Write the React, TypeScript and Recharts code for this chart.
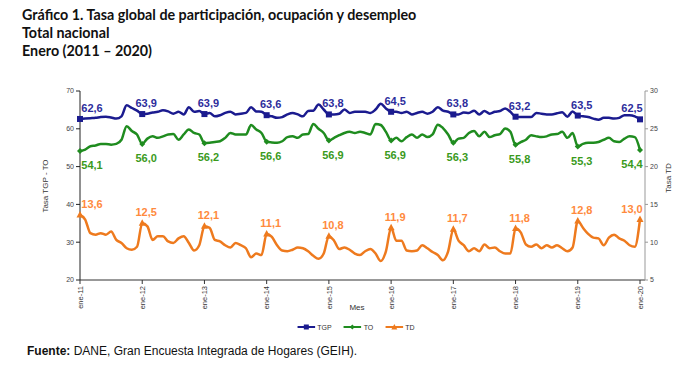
import React from "react";
import { LineChart, Line, XAxis, YAxis } from "recharts";

const MESES = ["ene", "feb", "mar", "abr", "may", "jun", "jul", "ago", "sep", "oct", "nov", "dic"];
const ANIOS = ["11", "12", "13", "14", "15", "16", "17", "18", "19", "20"];

// tasa global de participacion
const tgp = [
  62.6, 62.7, 62.8, 62.9, 63.1, 63.2, 63.0, 62.7, 63.3, 66.2, 65.5, 64.8,
  63.9, 64.0, 64.3, 64.5, 64.9, 64.6, 64.0, 64.5, 63.8, 65.7, 64.5, 64.7,
  63.9, 64.2, 63.3, 63.6, 64.2, 64.5, 63.8, 64.0, 64.2, 65.7, 64.6, 64.5,
  63.6, 63.3, 62.9, 63.1, 63.8, 64.2, 63.8, 63.3, 64.7, 64.8, 66.4, 65.1,
  63.8, 63.8, 64.0, 65.1, 64.2, 64.5, 64.5, 64.5, 64.2, 65.1, 66.6, 65.4,
  64.5, 64.5, 64.2, 64.5, 63.8, 64.2, 64.5, 64.0, 64.5, 65.7, 64.8, 64.5,
  63.8, 63.8, 64.3, 64.2, 64.8, 63.8, 64.7, 64.0, 64.5, 64.7, 65.4, 64.5,
  63.2, 63.1, 63.1, 63.1, 64.2, 64.0, 63.8, 63.8, 64.1, 64.4, 63.2, 64.6,
  63.5, 63.3, 63.1, 62.7, 62.4, 62.9, 62.9, 62.7, 62.9, 63.6, 63.6, 63.3,
  62.5,
];

// tasa de ocupacion
const to = [
  54.1, 54.5, 55.4, 55.6, 56.0, 56.0, 55.8, 56.0, 57.1, 60.7, 59.4, 58.5,
  56.0, 57.4, 58.0, 57.6, 58.0, 58.5, 58.6, 57.1, 58.5, 59.8, 58.9, 58.5,
  56.2, 56.3, 56.5, 56.7, 57.6, 58.9, 58.5, 58.5, 58.5, 61.0, 59.8, 58.9,
  56.6, 56.4, 56.3, 56.7, 57.8, 58.0, 57.6, 58.5, 58.6, 61.3, 60.0, 58.9,
  56.9, 57.6, 58.3, 58.9, 59.2, 58.9, 59.2, 58.9, 58.5, 61.3, 61.0, 59.2,
  56.9, 57.6, 56.7, 57.8, 58.5, 57.6, 58.5, 57.8, 58.5, 61.1, 60.2, 58.5,
  56.3, 57.4, 57.6, 58.9, 59.4, 58.0, 59.2, 57.8, 58.3, 58.6, 60.1, 59.2,
  55.8, 56.5, 57.1, 58.3, 58.0, 57.8, 58.0, 58.5, 58.6, 59.2, 57.6, 58.9,
  55.3, 56.0, 56.3, 56.3, 56.5, 57.1, 57.6, 56.7, 56.5, 57.4, 58.0, 57.8,
  54.4,
];

// tasa de desempleo
const td = [
  13.6, 13.0, 11.2, 11.0, 11.2, 11.0, 11.4, 10.3, 9.9, 9.2, 9.0, 9.4,
  12.5, 12.1, 10.3, 10.8, 10.8, 10.1, 9.9, 10.5, 10.8, 9.9, 8.9, 9.6,
  12.1, 11.9, 10.3, 10.1, 9.6, 9.3, 9.9, 9.6, 9.2, 8.0, 8.5, 8.3,
  11.1, 10.7, 9.6, 8.9, 8.8, 9.0, 9.3, 9.2, 8.8, 8.2, 7.8, 8.5,
  10.8, 10.2, 9.1, 9.3, 9.0, 8.5, 8.3, 8.8, 9.1, 8.5, 7.5, 8.8,
  11.9, 10.2, 10.2, 8.9, 8.8, 8.9, 9.6, 9.2, 8.7, 8.3, 7.6, 8.8,
  11.7, 10.2, 9.6, 8.8, 9.2, 8.8, 9.7, 9.2, 9.3, 8.8, 8.5, 8.5,
  11.8, 11.3, 9.7, 9.4, 9.7, 9.2, 9.6, 9.3, 9.6, 9.2, 8.8, 9.3,
  12.8, 11.9, 11.1, 10.6, 10.5, 9.6, 10.6, 11.0, 10.5, 10.2, 9.6, 9.4,
  13.0,
];

const ticksIzq = [20, 30, 40, 50, 60, 70];
const ticksDer = [5, 10, 15, 20, 25, 30];

const periodos: string[] = [];
ANIOS.forEach((a) => MESES.forEach((m) => periodos.push(`${m}-${a}`)));

const data = tgp.map((v, i) => ({ mes: periodos[i], TGP: v, TO: to[i], TD: td[i] }));

const AZUL = "#1b1b8f";
const VERDE = "#1f8c1f";
const NARANJA = "#ee7a1e";
const FONT = "'Liberation Sans', Arial, sans-serif";

const fmt = (v: number) => v.toFixed(1).replace(".", ",");

function makeDot(key: string, shape: string, color: string, labelColor: string, below: boolean) {
  return (props: any) => {
    const { cx, cy, index } = props;
    if (cx == null || cy == null || index % 12 !== 0) return <g key={`${key}-${index}`} />;
    const v = props.payload ? props.payload[key] : props.value;
    const last = index === data.length - 1;
    const dx = index === 0 ? 12 : last ? -8 : 4;
    const ly = below ? cy + 18 : cy - 7;
    let marker;
    if (shape === "square") {
      marker = <rect x={cx - 3} y={cy - 3} width={6} height={6} fill={color} />;
    } else if (shape === "diamond") {
      marker = <path d={`M${cx},${cy - 3}L${cx + 3},${cy}L${cx},${cy + 3}L${cx - 3},${cy}Z`} fill={color} />;
    } else {
      marker = <path d={`M${cx},${cy - 4}L${cx + 3.5},${cy + 2.5}L${cx - 3.5},${cy + 2.5}Z`} fill={color} />;
    }
    return (
      <g key={`${key}-${index}`}>
        {marker}
        <text x={cx + dx} y={ly} textAnchor="middle" fontFamily={FONT} fontSize={11} fontWeight="bold" fill={labelColor}>
          {fmt(v)}
        </text>
      </g>
    );
  };
}

function MesTick(props: any) {
  const { x, y, payload } = props;
  return (
    <g transform={`translate(${x},${y})`}>
      <text x={0} y={0} dy="0.35em" textAnchor="end" transform="rotate(-90)" fontFamily={FONT} fontSize={7.5} fill="#333">
        {payload.value}
      </text>
    </g>
  );
}

function LegendIcon({ color, shape }: { color: string; shape: string }) {
  return (
    <svg width={18} height={8} style={{ display: "block" }}>
      <line x1={0} y1={4} x2={18} y2={4} stroke={color} strokeWidth={2} />
      {shape === "square" && <rect x={6.5} y={1.5} width={5} height={5} fill={color} />}
      {shape === "diamond" && <path d="M9,1.5L11.5,4L9,6.5L6.5,4Z" fill={color} />}
      {shape === "triangle" && <path d="M9,1L12,6.5L6,6.5Z" fill={color} />}
    </svg>
  );
}

const legendItems = [
  { name: "TGP", color: AZUL, shape: "square" },
  { name: "TO", color: VERDE, shape: "diamond" },
  { name: "TD", color: NARANJA, shape: "triangle" },
];

export default function App() {
  const tickStyle = { fontFamily: FONT, fontSize: 7, fill: "#444" };
  return (
    <div style={{ position: "absolute", left: 0, top: 0, width: 700, height: 366, background: "#fff" }}>
      <div
        style={{
          position: "absolute",
          left: 22,
          top: 6,
          fontFamily: "Lato, 'Open Sans', sans-serif",
          fontWeight: "bold",
          fontSize: 14.3,
          lineHeight: "18px",
          color: "#111",
          whiteSpace: "nowrap",
        }}
      >
        <div>Gráfico 1. Tasa global de participación, ocupación y desempleo</div>
        <div>Total nacional</div>
        <div>Enero (2011 – 2020)</div>
      </div>

      <div style={{ position: "absolute", left: 0, top: 0 }}>
        <LineChart width={700} height={366} data={data} margin={{ top: 91, right: 25, bottom: 56, left: 50 }}>
          <XAxis
            dataKey="mes"
            interval={11}
            tick={<MesTick />}
            tickSize={4}
            tickLine={{ stroke: "#333" }}
            axisLine={{ stroke: "#333" }}
            height={30}
            padding={{ left: 0, right: 5 }}
          />
          <YAxis
            yAxisId="izq"
            domain={[20, 70]}
            ticks={ticksIzq}
            width={30}
            tick={tickStyle}
            tickSize={4}
            tickMargin={2}
            axisLine={{ stroke: "#222" }}
            tickLine={{ stroke: "#222" }}
          />
          <YAxis
            yAxisId="der"
            orientation="right"
            domain={[5, 30]}
            ticks={ticksDer}
            width={30}
            tick={tickStyle}
            tickSize={3}
            tickMargin={2}
            axisLine={{ stroke: "#999" }}
            tickLine={{ stroke: "#999" }}
          />
          <Line
            yAxisId="izq"
            type="monotone"
            dataKey="TGP"
            stroke={AZUL}
            strokeWidth={2.5}
            dot={makeDot("TGP", "square", AZUL, "#2d2d9c", false)}
            activeDot={false}
            isAnimationActive={false}
          />
          <Line
            yAxisId="izq"
            type="monotone"
            dataKey="TO"
            stroke={VERDE}
            strokeWidth={2.5}
            dot={makeDot("TO", "diamond", VERDE, "#3a9a1c", true)}
            activeDot={false}
            isAnimationActive={false}
          />
          <Line
            yAxisId="der"
            type="monotone"
            dataKey="TD"
            stroke={NARANJA}
            strokeWidth={2.5}
            dot={makeDot("TD", "triangle", NARANJA, "#ff8a3d", false)}
            activeDot={false}
            isAnimationActive={false}
          />
        </LineChart>
      </div>

      <div
        style={{
          position: "absolute",
          left: 45,
          top: 186,
          transform: "translate(-50%, -50%) rotate(-90deg)",
          fontFamily: FONT,
          fontSize: 8,
          color: "#333",
          whiteSpace: "nowrap",
        }}
      >
        Tasa TGP - TO
      </div>
      <div
        style={{
          position: "absolute",
          left: 668,
          top: 178,
          transform: "translate(-50%, -50%) rotate(-90deg)",
          fontFamily: FONT,
          fontSize: 8,
          color: "#333",
          whiteSpace: "nowrap",
        }}
      >
        Tasa TD
      </div>
      <div
        style={{
          position: "absolute",
          left: 357,
          top: 307,
          transform: "translate(-50%, -50%)",
          fontFamily: FONT,
          fontSize: 8,
          color: "#333",
        }}
      >
        Mes
      </div>

      <div
        style={{
          position: "absolute",
          left: 356,
          top: 327,
          transform: "translate(-50%, -50%)",
          display: "flex",
          alignItems: "center",
          gap: 12,
          fontFamily: FONT,
          fontSize: 7,
          color: "#333",
        }}
      >
        {legendItems.map((it) => (
          <div key={it.name} style={{ display: "flex", alignItems: "center", gap: 2 }}>
            <LegendIcon color={it.color} shape={it.shape} />
            <span>{it.name}</span>
          </div>
        ))}
      </div>

      <div
        style={{
          position: "absolute",
          left: 27,
          top: 344,
          fontFamily: FONT,
          fontSize: 12,
          color: "#111",
          whiteSpace: "nowrap",
        }}
      >
        <b>Fuente:</b> DANE, Gran Encuesta Integrada de Hogares (GEIH).
      </div>
    </div>
  );
}
